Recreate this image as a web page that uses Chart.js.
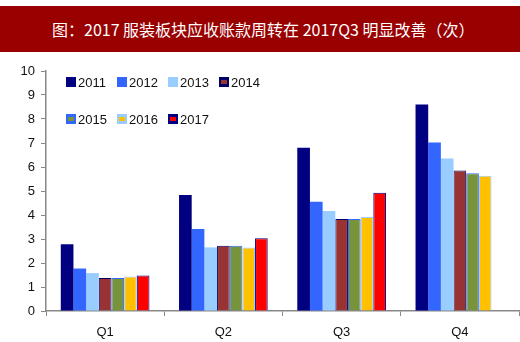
<!DOCTYPE html>
<html>
<head>
<meta charset="utf-8">
<script src="https://cdn.jsdelivr.net/npm/chart.js@4"></script>
<style>
  body { margin: 0; background: #fff; width: 520px; height: 342px; position: relative; overflow: hidden; }
  #title {
    position: absolute; left: 0; top: 6px; width: 520px; height: 46px;
    background: #990000; color: #fff;
    font: 16px "Noto Sans CJK SC", sans-serif; line-height: 46px;
    box-sizing: border-box; padding-left: 52px; white-space: nowrap;
  }
  #wrap { position: absolute; left: 0; top: 52px; width: 520px; height: 290px; }
</style>
</head>
<body>
<div id="title">图：2017 服装板块应收账款周转在 2017Q3 明显改善（次）</div>
<div id="wrap"><canvas id="turnoverChart"></canvas></div>
<script>
// Receivables turnover by quarter, one series per year
const quarters = ["Q1", "Q2", "Q3", "Q4"];
const years = ["2011", "2012", "2013", "2014", "2015", "2016", "2017"];
const y2011 = [2.78, 4.83, 6.8, 8.6];
const y2012 = [1.77, 3.42, 4.55, 7.02];
const y2013 = [1.58, 2.65, 4.17, 6.35];
const y2014 = [1.37, 2.72, 3.83, 5.85];
const y2015 = [1.37, 2.72, 3.83, 5.74];
const y2016 = [1.44, 2.65, 3.92, 5.64];
const y2017 = [1.48, 3.03, 4.93, null];
const yTicks = [0, 1, 2, 3, 4, 5, 6, 7, 8, 9, 10];

const fills = ["#000080", "#3366ff", "#99ccff", "#993333", "#77933c", "#ffc000", "#ff0000"];
const edges = ["#000080", "#3366ff", "#99ccff", "#000066", "#3366ff", "#99ccff", "#000080"];
const series = [y2011, y2012, y2013, y2014, y2015, y2016, y2017];

// Legend drawn in two rows of four inside the plot
const gridLegend = {
  id: "gridLegend",
  afterDraw(chart) {
    const ctx = chart.ctx;
    ctx.save();
    ctx.font = "13px 'Liberation Sans', Arial, sans-serif";
    ctx.textBaseline = "middle";
    chart.data.datasets.forEach((ds, i) => {
      const x = 66 + (i % 4) * 51;
      const y = i < 4 ? 30 : 67;
      ctx.fillStyle = ds.borderColor;
      ctx.fillRect(x, y - 5, 10, 10);
      ctx.fillStyle = ds.backgroundColor;
      ctx.fillRect(x + 2, y - 2, 6, 4);
      ctx.fillStyle = "#111";
      ctx.fillText(ds.label, x + 12, y + 1);
    });
    ctx.restore();
  }
};

const ctx = document.getElementById("turnoverChart").getContext("2d");
new Chart(ctx, {
  type: "bar",
  data: {
    labels: quarters,
    datasets: years.map((yr, i) => ({
      label: yr,
      data: series[i],
      backgroundColor: fills[i],
      borderColor: edges[i],
      borderWidth: i > 2 ? 1 : 0,
      categoryPercentage: 0.75,
      barPercentage: 1.0
    }))
  },
  options: {
    responsive: true,
    maintainAspectRatio: false,
    animation: false,
    layout: { padding: { top: 19, right: 1, left: 0, bottom: 0 } },
    plugins: { legend: { display: false }, tooltip: { enabled: false } },
    scales: {
      x: {
        grid: { drawOnChartArea: false, tickLength: 5, color: "#888" },
        border: { color: "#888", width: 1.5 },
        ticks: { color: "#111", padding: 9, font: { size: 13, family: "'Liberation Sans', Arial" } },
        afterFit(scale) { scale.height = 31; }
      },
      y: {
        min: 0,
        max: 10,
        afterBuildTicks(scale) { scale.ticks = yTicks.map(v => ({ value: v })); },
        grid: { drawOnChartArea: false, tickLength: 5, color: "#888" },
        border: { color: "#888", width: 1.5 },
        ticks: { color: "#111", padding: 6, font: { size: 13, family: "'Liberation Sans', Arial" } },
        afterFit(scale) { scale.width = 46; }
      }
    }
  },
  plugins: [gridLegend]
});
</script>
</body>
</html>
